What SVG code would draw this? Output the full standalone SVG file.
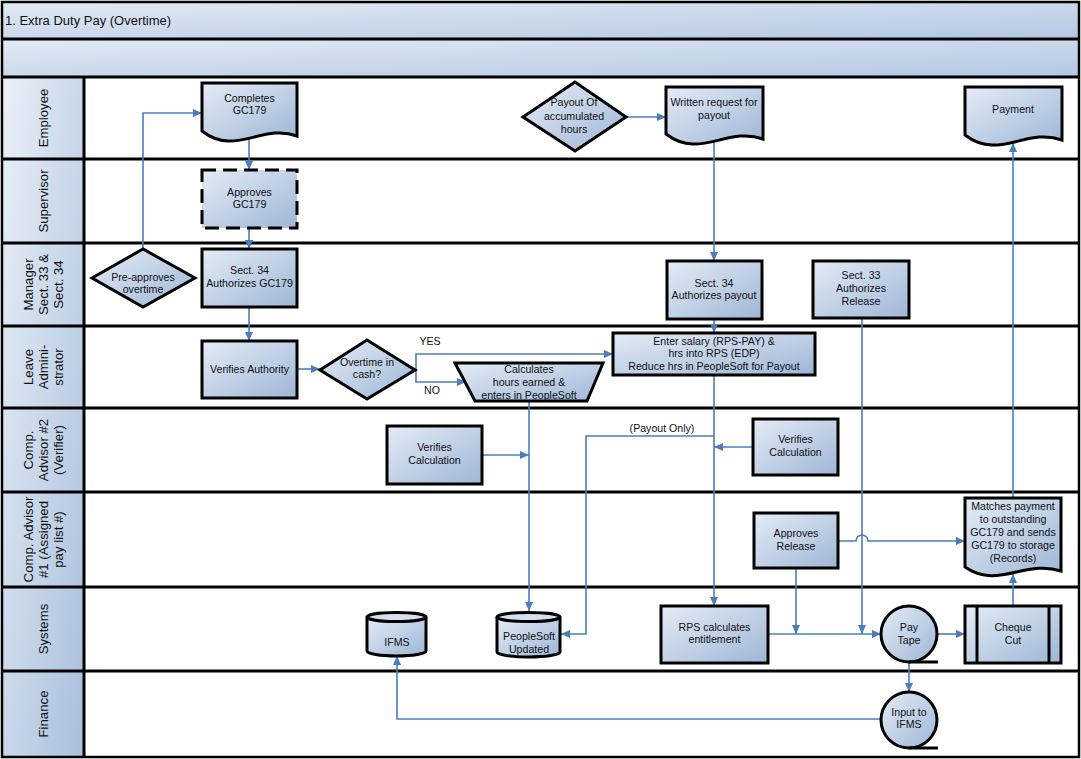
<svg xmlns="http://www.w3.org/2000/svg" width="1081" height="759" viewBox="0 0 1081 759">
<defs>
<linearGradient id="ng" x1="0" y1="0" x2="1" y2="1"><stop offset="0" stop-color="#e4ecf6"/><stop offset="1" stop-color="#9fb6d6"/></linearGradient>
<linearGradient id="lg" x1="0" y1="0" x2="1" y2="1"><stop offset="0" stop-color="#eaf0f8"/><stop offset="1" stop-color="#a9bfdc"/></linearGradient>
<linearGradient id="tg" x1="0" y1="0" x2="1" y2="1"><stop offset="0" stop-color="#e2eaf5"/><stop offset="1" stop-color="#b4c7e2"/></linearGradient>
<marker id="arr" viewBox="0 0 10 10" refX="10" refY="5" markerWidth="10" markerHeight="9" markerUnits="userSpaceOnUse" orient="auto"><path d="M0,0.5 L10,5 L0,9.5 z" fill="#4a7ebb"/></marker>
</defs>
<style>
.node{fill:url(#ng);stroke:#000;stroke-width:3}
.top{fill:#d6e1ef;stroke:#000;stroke-width:3}
.t{font-family:"Liberation Sans",Arial,sans-serif;font-size:10.6px;fill:#111;text-anchor:middle}
.ln{font-family:"Liberation Sans",Arial,sans-serif;font-size:13.2px;fill:#111;text-anchor:middle}
.c{fill:none;stroke:#4a7ebb;stroke-width:1.6;marker-end:url(#arr)}
.div{stroke:#000;stroke-width:3}
</style>
<rect x="0" y="0" width="1081" height="759" fill="#fff"/>
<g id="frame">
<rect x="2" y="2" width="1077" height="37" fill="url(#tg)"/>
<rect x="2" y="39" width="1077" height="38" fill="url(#tg)"/>
<rect x="2" y="77" width="82" height="680" fill="url(#lg)"/>
<rect x="2" y="2" width="1077" height="755" fill="none" stroke="#000" stroke-width="2.5"/>
<line class="div" x1="2" y1="39" x2="1079" y2="39"/>
<line class="div" x1="2" y1="77" x2="1079" y2="77"/>
<line class="div" x1="2" y1="159" x2="1079" y2="159"/>
<line class="div" x1="2" y1="243" x2="1079" y2="243"/>
<line class="div" x1="2" y1="326" x2="1079" y2="326"/>
<line class="div" x1="2" y1="408" x2="1079" y2="408"/>
<line class="div" x1="2" y1="492" x2="1079" y2="492"/>
<line class="div" x1="2" y1="587" x2="1079" y2="587"/>
<line class="div" x1="2" y1="671" x2="1079" y2="671"/>
<line class="div" x1="84" y1="77" x2="84" y2="757"/>
<text x="5" y="25" font-family="Liberation Sans, Arial, sans-serif" font-size="13px" fill="#111">1. Extra Duty Pay (Overtime)</text>
</g>
<g id="lanes">
<text class="ln" transform="translate(43,118) rotate(-90)" y="4.5">Employee</text>
<text class="ln" transform="translate(43,201) rotate(-90)" y="4.5">Supervisor</text>
<text class="ln" transform="translate(43,284.5) rotate(-90)"><tspan x="0" y="-10.5">Manager</tspan><tspan x="0" y="4.5">Sect. 33 &amp;</tspan><tspan x="0" y="19.5">Sect. 34</tspan></text>
<text class="ln" transform="translate(43,367) rotate(-90)"><tspan x="0" y="-10.5">Leave</tspan><tspan x="0" y="4.5">Admini-</tspan><tspan x="0" y="19.5">strator</tspan></text>
<text class="ln" transform="translate(43,450) rotate(-90)"><tspan x="0" y="-10.5">Comp.</tspan><tspan x="0" y="4.5">Advisor #2</tspan><tspan x="0" y="19.5">(Verifier)</tspan></text>
<text class="ln" transform="translate(43,539.5) rotate(-90)"><tspan x="0" y="-10.5">Comp. Advisor</tspan><tspan x="0" y="4.5">#1 (Assigned</tspan><tspan x="0" y="19.5">pay list #)</tspan></text>
<text class="ln" transform="translate(43,629) rotate(-90)" y="4.5">Systems</text>
<text class="ln" transform="translate(43,714) rotate(-90)" y="4.5">Finance</text>
</g>
<g id="connectors">
<path class="c" d="M143,249 V113 H202"/>
<path class="c" d="M249,138 V170"/>
<path class="c" d="M249,228 V249"/>
<path class="c" d="M249,307 V341"/>
<path class="c" d="M297,369 H320"/>
<path class="c" d="M415,370 H416 V354 H613"/>
<path class="c" d="M416,370 V382 H466"/>
<path class="c" d="M529,401 V611"/>
<path class="c" d="M482,455 H529"/>
<path class="c" d="M626,117 H666"/>
<path class="c" d="M714,141 V261"/>
<path class="c" d="M714,319 V333"/>
<path class="c" d="M714,375 V606"/>
<path class="c" d="M714,436 H586 V634 H561"/>
<path class="c" d="M753,447 H714"/>
<path class="c" d="M862,318 V634"/>
<path class="c" d="M796,568 V634"/>
<path class="c" d="M768,634 H881"/>
<path class="c" d="M838,541 H856 A6,6 0 0 1 868,541 H965"/>
<path class="c" d="M937,634 H965"/>
<path class="c" d="M1013,606 V574"/>
<path class="c" d="M1013,498 V143"/>
<path class="c" d="M909,662 V692"/>
<path class="c" d="M881,719 H397 V656"/>
<text x="430" y="345" class="t">YES</text>
<text x="432" y="394" class="t">NO</text>
<text x="662" y="432" class="t">(Payout Only)</text>
</g>
<g id="n-completes"><path class="node" d="M202,83 H297 V136 C262,123 235,157 202,131 Z"/><text class="t"><tspan x="249.5" y="102">Completes</tspan><tspan x="249.5" y="114">GC179</tspan></text></g>
<g id="n-approves"><rect class="node" x="202" y="170" width="95" height="58" stroke-dasharray="14,7"/><text class="t"><tspan x="249.5" y="196">Approves</tspan><tspan x="249.5" y="208">GC179</tspan></text></g>
<g id="n-sect34"><rect class="node" x="202" y="249" width="95" height="58"/><text class="t"><tspan x="249.5" y="274">Sect. 34</tspan><tspan x="249.5" y="287">Authorizes GC179</tspan></text></g>
<g id="n-preapproves"><polygon class="node" points="92,278 143,249 195,278 143,307"/><text class="t"><tspan x="143" y="281">Pre-approves</tspan><tspan x="143" y="293">overtime</tspan></text></g>
<g id="n-verauth"><rect class="node" x="202" y="341" width="95" height="57"/><text class="t" x="249.5" y="373">Verifies Authority</text></g>
<g id="n-otcash"><polygon class="node" points="320,370 367,340 415,370 367,399"/><text class="t"><tspan x="367" y="366">Overtime in</tspan><tspan x="367" y="378">cash?</tspan></text></g>
<g id="n-calc"><polygon class="node" points="455,363 603,363 587,401 475,401"/><text class="t"><tspan x="529" y="373">Calculates</tspan><tspan x="529" y="386">hours earned &amp;</tspan><tspan x="529" y="399">enters in PeopleSoft</tspan></text></g>
<g id="n-enter"><rect class="node" x="613" y="333" width="202" height="42"/><text class="t"><tspan x="714" y="345">Enter salary (RPS-PAY) &amp;</tspan><tspan x="714" y="357">hrs into RPS (EDP)</tspan><tspan x="714" y="370">Reduce hrs in PeopleSoft for Payout</tspan></text></g>
<g id="n-payoutacc"><polygon class="node" points="523,117 575,82 626,117 575,151"/><text class="t"><tspan x="574" y="106">Payout Of</tspan><tspan x="574" y="120">accumulated</tspan><tspan x="574" y="133">hours</tspan></text></g>
<g id="n-written"><path class="node" d="M666,87 H763 V139 C727,126 700,160 666,134 Z"/><text class="t"><tspan x="714" y="106">Written request for</tspan><tspan x="714" y="119">payout</tspan></text></g>
<g id="n-payment"><path class="node" d="M965,87 H1062 V140 C1026,127 999,161 965,135 Z"/><text class="t" x="1013" y="113">Payment</text></g>
<g id="n-sect34p"><rect class="node" x="667" y="261" width="95" height="58"/><text class="t"><tspan x="714" y="287">Sect. 34</tspan><tspan x="714" y="299">Authorizes payout</tspan></text></g>
<g id="n-sect33"><rect class="node" x="813" y="261" width="96" height="57"/><text class="t"><tspan x="861" y="279">Sect. 33</tspan><tspan x="861" y="292">Authorizes</tspan><tspan x="861" y="305">Release</tspan></text></g>
<g id="n-vercalc1"><rect class="node" x="387" y="426" width="95" height="58"/><text class="t"><tspan x="434.5" y="451">Verifies</tspan><tspan x="434.5" y="464">Calculation</tspan></text></g>
<g id="n-vercalc2"><rect class="node" x="753" y="419" width="85" height="56"/><text class="t"><tspan x="795.5" y="443">Verifies</tspan><tspan x="795.5" y="456">Calculation</tspan></text></g>
<g id="n-approvesrel"><rect class="node" x="754" y="513" width="84" height="55"/><text class="t"><tspan x="796" y="537">Approves</tspan><tspan x="796" y="550">Release</tspan></text></g>
<g id="n-matches"><path class="node" d="M965,498 H1061 V571 C1025,559 998,590 965,567 Z"/><text class="t"><tspan x="1013" y="510">Matches payment</tspan><tspan x="1013" y="523">to outstanding</tspan><tspan x="1013" y="536">GC179 and sends</tspan><tspan x="1013" y="549">GC179 to storage</tspan><tspan x="1013" y="562">(Records)</tspan></text></g>
<g id="n-rps"><rect class="node" x="661" y="606" width="107" height="57"/><text class="t"><tspan x="714.5" y="631">RPS calculates</tspan><tspan x="714.5" y="643">entitlement</tspan></text></g>
<g id="n-paytape"><circle class="node" cx="909" cy="634" r="28"/><line x1="909" y1="662" x2="938" y2="662" stroke="#000" stroke-width="3"/><text class="t"><tspan x="909" y="631">Pay</tspan><tspan x="909" y="644">Tape</tspan></text></g>
<g id="n-cheque"><rect class="node" x="965" y="606" width="96" height="57"/><line x1="977" y1="606" x2="977" y2="663" stroke="#000" stroke-width="3"/><line x1="1049" y1="606" x2="1049" y2="663" stroke="#000" stroke-width="3"/><text class="t"><tspan x="1013" y="631">Cheque</tspan><tspan x="1013" y="644">Cut</tspan></text></g>
<g id="n-input"><circle class="node" cx="909" cy="720" r="28"/><line x1="909" y1="748" x2="938" y2="748" stroke="#000" stroke-width="3"/><text class="t"><tspan x="909" y="716">Input to</tspan><tspan x="909" y="728">IFMS</tspan></text></g>
<g id="n-ifms"><path class="node" d="M367,617 V651 A29.5,5 0 0 0 426,651 V617"/><ellipse class="top" cx="396.5" cy="617" rx="29.5" ry="4.5"/><text class="t" x="397" y="646">IFMS</text></g>
<g id="n-psupd"><path class="node" d="M497,617 V652 A31.5,5 0 0 0 560,652 V617"/><ellipse class="top" cx="528.5" cy="617" rx="31.5" ry="4.5"/><text class="t"><tspan x="529" y="640">PeopleSoft</tspan><tspan x="529" y="653">Updated</tspan></text></g>
</svg>
